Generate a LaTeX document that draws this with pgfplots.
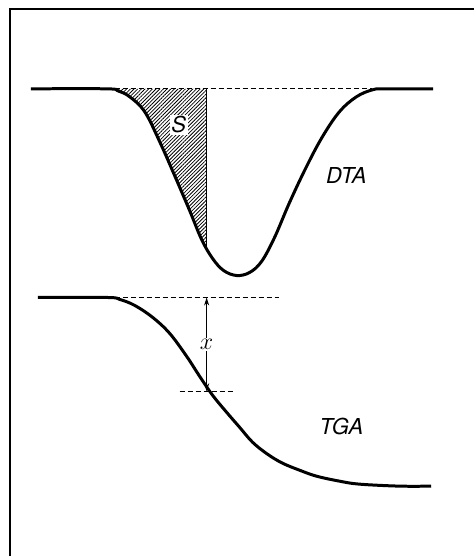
\documentclass[border=0pt]{standalone}
\usepackage{pgfplots}
\pgfplotsset{compat=1.18}
\usepgfplotslibrary{fillbetween}
\usetikzlibrary{patterns.meta,arrows.meta}
\usepackage{fontspec}
\setmainfont{TeX Gyre Heros}

\begin{document}
\begin{tikzpicture}
\begin{axis}[
    width=237.5pt, height=278.5pt, scale only axis,
    xmin=0, xmax=475, ymin=0, ymax=557,
    y dir=reverse,
    hide axis, clip=false,
]
% frame (top and left only)
\path (axis cs:0,0) rectangle (axis cs:475,557);
\draw[line width=1pt] (axis cs:10,557) -- (axis cs:10,9) -- (axis cs:475,9);

% DTA curve
\addplot[name path=dta, black, line width=1.5pt, smooth, tension=0.6] coordinates {
    (31,89) (107,89) (118,91) (130,97) (145,112) (160,142) (175,176)
    (190,211) (202,240) (213,259) (224,271) (237,276) (250,273)
    (262,262) (275,238) (290,203) (307,167) (323,137) (340,112)
    (357,97) (373,90) (385,89) (434,89)
};
\addplot[name path=base, draw=none] coordinates {(100,89) (380,89)};
\addplot[pattern={Lines[angle=45,distance=1.3pt,line width=0.4pt]}, draw=none]
    fill between[of=dta and base, soft clip={domain=107:207}];
\draw[line width=0.5pt, dash pattern=on 2.5pt off 1.5pt] (axis cs:107,89) -- (axis cs:373,89);
\draw[line width=0.6pt] (axis cs:207,89) -- (axis cs:207,250);
\node[fill=white, inner sep=0.8pt, font=\fontsize{11}{12}\selectfont\itshape] at (axis cs:179,125) {S};
\node[font=\fontsize{11}{12}\selectfont\itshape] at (axis cs:347,176) {DTA};

% TGA curve
\addplot[black, line width=1.5pt, smooth, tension=0.6] coordinates {
    (38,298) (107,298) (120,300) (135,306) (153,318) (170,334)
    (187,357) (200,377) (213,396) (227,413) (240,428) (253,443)
    (268,455) (283,464) (300,471) (317,477) (340,482) (360,485)
    (400,487) (432,487)
};
\draw[line width=0.5pt, dash pattern=on 2.5pt off 1.5pt] (axis cs:107,298) -- (axis cs:280,298);
\draw[line width=0.5pt, dash pattern=on 2.5pt off 1.5pt] (axis cs:180,392) -- (axis cs:235,392);
\draw[line width=0.5pt, {Stealth[length=4pt,width=2.5pt]}-{Stealth[length=4pt,width=2.5pt]}]
    (axis cs:207,298) -- (axis cs:207,392);
\node[fill=white, inner sep=0.8pt, font=\fontsize{13}{14}\selectfont] at (axis cs:207,345) {$x$};
\node[font=\fontsize{11}{12}\selectfont\itshape] at (axis cs:342,427) {TGA};
\end{axis}
\end{tikzpicture}
\end{document}
